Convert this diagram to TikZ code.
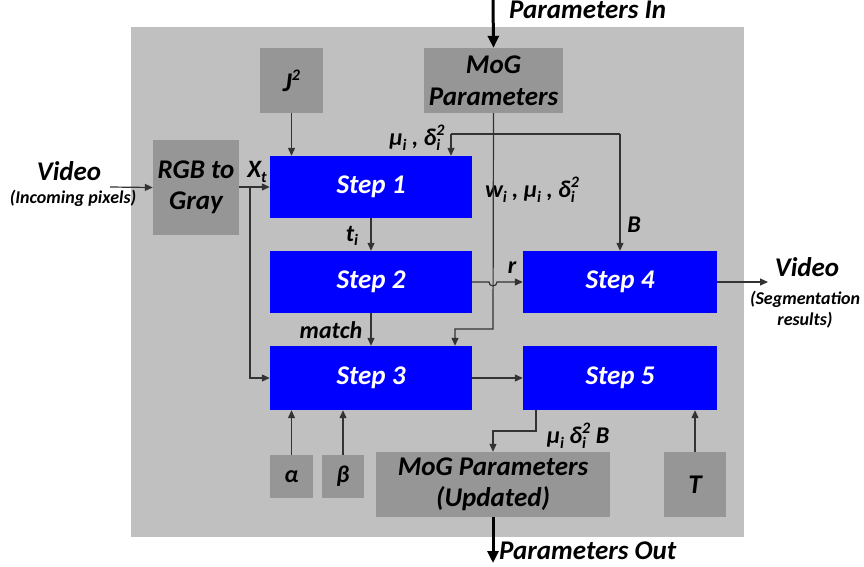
\documentclass[tikz,border=0pt]{standalone}
\usepackage{fontspec}
\setmainfont{Carlito}
\usetikzlibrary{arrows.meta}

\definecolor{panel}{HTML}{C0C0C0}
\definecolor{boxgray}{HTML}{969696}
\definecolor{stepblue}{HTML}{0000FF}
\definecolor{wire}{HTML}{333333}

% text sizes
\newcommand\bigtxt{\fontsize{27}{31}\selectfont\bfseries\itshape}
\newcommand\labtxt{\fontsize{24}{27}\selectfont\bfseries\itshape}
\newcommand\smalltxt{\fontsize{18}{21}\selectfont\bfseries\itshape}
% sub/superscripts in text
\newcommand\lsub[1]{\raisebox{-0.4ex}{\fontsize{16}{16}\selectfont #1}}
\newcommand\lsup[1]{\raisebox{0.85ex}{\fontsize{16}{16}\selectfont #1}}
\newcommand\lsubsup[2]{\rlap{\lsub{#1}}\lsup{#2}}

\tikzset{
  graybox/.style={draw=none, fill=boxgray, inner sep=0pt, align=center, font=\bigtxt},
  stepbox/.style={draw=none, fill=stepblue, inner sep=0pt, text=white, font=\bigtxt,
                  minimum width=202pt},
  wirearrow/.style={draw=wire, line width=1.2pt, -{Triangle[length=8pt,width=7pt]}},
  wireline/.style={draw=wire, line width=1.2pt},
  thickarrow/.style={draw=black, line width=3pt, -{Triangle[length=12pt,width=11pt]}},
  lab/.style={inner sep=0pt, font=\labtxt},
}

\begin{document}
\begin{tikzpicture}[x=1pt, y=-1pt]
\useasboundingbox (0,0) rectangle (864,566);

% panel
\fill[panel] (131,27) rectangle (744,537);

% boxes
\node[graybox, minimum width=63pt, minimum height=65pt] (jj) at (291.5,80.5) {J\lsup{2}};
\node[graybox, minimum width=139pt, minimum height=65pt] (mog) at (493.5,80.5) {MoG\\[1pt]Parameters};
\node[graybox, minimum width=86pt, minimum height=95pt] (rgb) at (196,187.5) {RGB to\\[0pt]Gray};
\node[stepbox, minimum height=62pt] (s1) at (371,187) {Step 1};
\node[stepbox, minimum height=62pt] (s2) at (371,282) {Step 2};
\node[stepbox, minimum height=64pt] (s3) at (371,378) {Step 3};
\node[stepbox, minimum width=194pt, minimum height=62pt] (s4) at (620,282) {Step 4};
\node[stepbox, minimum width=194pt, minimum height=64pt] (s5) at (620,378) {Step 5};
\node[graybox, minimum width=43pt, minimum height=43pt, font=\labtxt] (al) at (291.5,476.5) {α};
\node[graybox, minimum width=42pt, minimum height=43pt, font=\labtxt] (be) at (343,476.5) {β};
\node[graybox, minimum width=234pt, minimum height=65pt] (mogu) at (493,484.5) {MoG Parameters\\[0pt](Updated)};
\node[graybox, minimum width=62pt, minimum height=65pt] (tt) at (695,484.5) {T};

% free ends and bends
\coordinate (vin) at (110,187);
\coordinate (vout) at (768,282);
\coordinate (pin) at (493,0);
\coordinate (pout) at (493,563);
\coordinate (xsplit) at (250,187);
\coordinate (xbend) at (250,378);
\coordinate (mvl) at (451,134);
\coordinate (mvr) at (620,134);
\coordinate (mbend1) at (493,329);
\coordinate (mbend2) at (455,329);
\coordinate (hopin) at (489,282);
\coordinate (s5tap) at (536,410);
\coordinate (ubend1) at (536,431);
\coordinate (ubend2) at (493,431);

% outer labels
\node[inner sep=0pt, font=\bigtxt] (vidl) at (69,171) {Video};
\node[inner sep=0pt, font=\smalltxt] (incl) at (73,198) {(Incoming pixels)};
\node[inner sep=0pt, font=\bigtxt] (vidr) at (807,267) {Video};
\node[inner sep=0pt, font=\smalltxt, align=center] (segr) at (805,310) {(Segmentation\\results)};
\node[inner sep=0pt, font=\bigtxt, anchor=west] (parin) at (509,10) {Parameters In};
\node[inner sep=0pt, font=\bigtxt, anchor=west] (parout) at (499,551) {Parameters Out};

% video path
\draw[wirearrow] (vin) -- (rgb.west);
\draw[wirearrow] (rgb.east |- s1.west) -- (s1.west);
\draw[wirearrow] (xsplit) -- (xbend) -- (s3.west);
\node[lab, font=\fontsize{25}{27}\selectfont\bfseries\itshape] (xt) at (257,172) {X\lsub{t}};

% J^2 into step 1
\draw[wirearrow] (jj.south) -- (jj.south |- s1.north);

% MoG parameters in/out
\draw[thickarrow] (pin) -- (mog.north);
\draw[thickarrow] (mogu.south) -- (pout);

% mean / variance feed to step 1 and B to step 4
\draw[wireline] (mvl) -- (mvr);
\draw[wirearrow] (mvl) -- (mvl |- s1.north);
\draw[wirearrow] (mvr) -- (s4.north);
\node[lab] (muvar) at (417,138) {μ\lsub{i} , δ\lsubsup{i}{2}};
\node[lab] (wmv) at (532,190) {w\lsub{i} , μ\lsub{i} , δ\lsubsup{i}{2}};
\node[lab] (bl) at (634,225) {B};

% MoG parameters down to step 3
\draw[wirearrow] (mog.south) -- (mbend1) -- (mbend2) -- (mbend2 |- s3.north);

% step chain
\draw[wirearrow] (s1.south) -- (s2.north);
\node[lab] (ti) at (352,236) {t\lsub{i}};
\draw[wirearrow] (s2.south) -- (s3.north);
\node[lab] (match) at (331,330) {match};
\draw[wirearrow] (s2.east) -- (hopin) arc[start angle=180, end angle=0, radius=4] -- (s4.west);
\node[lab] (rl) at (512,268) {r};
\draw[wirearrow] (s4.east) -- (vout);
\draw[wirearrow] (s3.east) -- (s5.west);

% parameters into steps 3 and 5
\draw[wirearrow] (al.north) -- (al.north |- s3.south);
\draw[wirearrow] (be.north) -- (be.north |- s3.south);
\draw[wirearrow] (tt.north) -- (tt.north |- s5.south);

% step 5 to updated parameters
\draw[wirearrow] (s5tap) -- (ubend1) -- (ubend2) -- (mogu.north);
\node[lab] (upd) at (578,436) {μ\lsub{i} δ\lsubsup{i}{2} B};
\end{tikzpicture}
\end{document}
